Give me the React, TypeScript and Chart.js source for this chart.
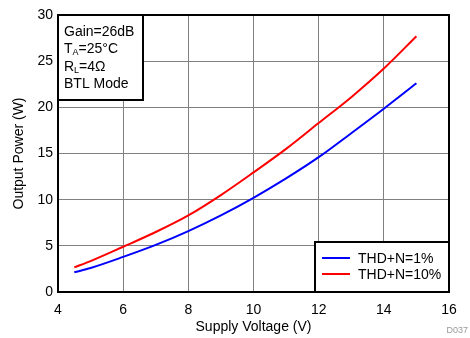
import React, { useEffect, useRef } from "react";
import { Chart, registerables } from "chart.js";

Chart.register(...registerables);

const voltage = [4.5, 5, 6, 7, 8, 9, 10, 11, 12, 13, 14, 15];
const thd1 = [2.13, 2.6, 3.8, 5.1, 6.6, 8.3, 10.2, 12.3, 14.6, 17.2, 19.85, 22.6];
const thd10 = [2.67, 3.35, 4.9, 6.5, 8.3, 10.5, 12.95, 15.5, 18.3, 21.1, 24.2, 27.7];
const seriesLabels = ["THD+N=1%", "THD+N=10%"];
const seriesColors = ["#0000FF", "#FF0000"];
const xTitle = "Supply Voltage (V)";
const yTitle = "Output Power (W)";
const FONT = "'Liberation Sans', Arial, sans-serif";

const boxPlugin = {
  id: "boxes",
  afterDraw(chart: any) {
    const { ctx, chartArea: a } = chart;
    ctx.save();
    // plot frame
    ctx.strokeStyle = "#000";
    ctx.lineWidth = 2;
    ctx.strokeRect(a.left, a.top, a.right - a.left, a.bottom - a.top);

    // condition box
    const bx = a.left, by = a.top, bw = 85, bh = 85;
    ctx.fillStyle = "#fff";
    ctx.fillRect(bx, by, bw, bh);
    ctx.strokeRect(bx, by, bw, bh);
    ctx.fillStyle = "#000";
    ctx.textBaseline = "middle";
    ctx.textAlign = "left";
    ctx.font = `14px ${FONT}`;
    const tx = bx + 6;
    ctx.fillText("Gain=26dB", tx, by + 17);
    let x = tx;
    ctx.fillText("T", x, by + 34);
    x += ctx.measureText("T").width;
    ctx.font = `9px ${FONT}`;
    ctx.fillText("A", x, by + 38);
    x += ctx.measureText("A").width;
    ctx.font = `14px ${FONT}`;
    ctx.fillText("=25°C", x, by + 34);
    x = tx;
    ctx.fillText("R", x, by + 52);
    x += ctx.measureText("R").width;
    ctx.font = `9px ${FONT}`;
    ctx.fillText("L", x, by + 56);
    x += ctx.measureText("L").width;
    ctx.font = `14px ${FONT}`;
    ctx.fillText("=4Ω", x, by + 52);
    ctx.fillText("BTL Mode", tx, by + 69);

    // legend box
    const lx = 315, ly = 242, lw = a.right - lx, lh = a.bottom - ly;
    ctx.fillStyle = "#fff";
    ctx.fillRect(lx, ly, lw, lh);
    ctx.strokeStyle = "#000";
    ctx.lineWidth = 2;
    ctx.strokeRect(lx, ly, lw, lh);
    ctx.font = `14px ${FONT}`;
    seriesLabels.forEach((lab, i) => {
      const yy = ly + 16 + i * 16;
      ctx.strokeStyle = seriesColors[i];
      ctx.lineWidth = 2;
      ctx.beginPath();
      ctx.moveTo(lx + 7, yy);
      ctx.lineTo(lx + 35, yy);
      ctx.stroke();
      ctx.fillStyle = "#000";
      ctx.fillText(lab, lx + 43, yy + 1);
    });

    // figure id
    ctx.font = `9px ${FONT}`;
    ctx.fillStyle = "#9a9a9a";
    ctx.textAlign = "right";
    ctx.fillText("D037", 468, 331);
    ctx.restore();
  },
};

export default function App() {
  const ref = useRef<HTMLCanvasElement>(null);
  useEffect(() => {
    document.body.style.margin = "0";
    const chart = new Chart(ref.current!, {
      type: "line",
      data: {
        datasets: [
          {
            label: seriesLabels[0],
            data: voltage.map((v, i) => ({ x: v, y: thd1[i] })),
            borderColor: seriesColors[0],
            borderWidth: 2,
            pointRadius: 0,
            cubicInterpolationMode: "monotone",
          },
          {
            label: seriesLabels[1],
            data: voltage.map((v, i) => ({ x: v, y: thd10[i] })),
            borderColor: seriesColors[1],
            borderWidth: 2,
            pointRadius: 0,
            cubicInterpolationMode: "monotone",
          },
        ],
      },
      options: {
        animation: false,
        responsive: false,
        layout: { padding: { top: 15, right: 21, left: 0, bottom: 0 } },
        plugins: { legend: { display: false }, tooltip: { enabled: false } },
        scales: {
          x: {
            type: "linear",
            min: 4,
            max: 16,
            ticks: { stepSize: 2, color: "#000", font: { family: FONT, size: 14 }, padding: 10 },
            grid: { color: "#808080", lineWidth: 1, drawTicks: false },
            border: { color: "#000", width: 2 },
            title: { display: true, text: xTitle, color: "#000", font: { family: FONT, size: 14 }, padding: { top: 0, bottom: 2 } },
            afterFit(s: any) { s.height = 46; },
          },
          y: {
            min: 0,
            max: 30,
            ticks: { stepSize: 5, color: "#000", font: { family: FONT, size: 14 }, padding: 5 },
            grid: { color: "#808080", lineWidth: 1, drawTicks: false },
            border: { color: "#000", width: 2 },
            title: { display: true, text: yTitle, color: "#000", font: { family: FONT, size: 14 }, padding: { top: 11, bottom: 0 } },
            afterFit(s: any) { s.width = 58; },
          },
        },
      },
      plugins: [boxPlugin],
    } as any);
    return () => chart.destroy();
  }, []);
  return (
    <div style={{ width: 470, height: 338 }}>
      <canvas ref={ref} width={470} height={338} style={{ display: "block" }} />
    </div>
  );
}
